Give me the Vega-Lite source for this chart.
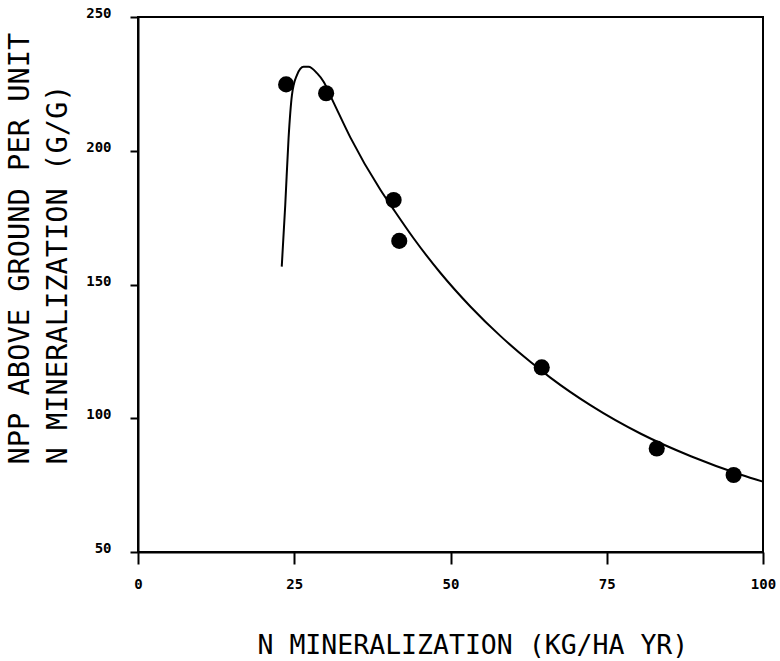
{
  "$schema": "https://vega.github.io/schema/vega-lite/v6.json",
  "autosize": {"type": "none"},
  "padding": {"left": 138, "top": 17, "right": 17, "bottom": 109},
  "width": 625,
  "height": 535,
  "background": "white",
  "datasets": {
    "observed": [
      {"n_min": 23.7, "npp_per_n": 224.8},
      {"n_min": 30.1, "npp_per_n": 221.5},
      {"n_min": 40.9, "npp_per_n": 181.6},
      {"n_min": 41.8, "npp_per_n": 166.3},
      {"n_min": 64.6, "npp_per_n": 119.0},
      {"n_min": 83.0, "npp_per_n": 88.7},
      {"n_min": 95.3, "npp_per_n": 78.8}
    ],
    "fitted": [
      {"n_min": 23.0, "npp_per_n": 156.7},
      {"n_min": 23.56, "npp_per_n": 179.7},
      {"n_min": 24.09, "npp_per_n": 204.7},
      {"n_min": 24.63, "npp_per_n": 220.8},
      {"n_min": 25.43, "npp_per_n": 228.3},
      {"n_min": 26.49, "npp_per_n": 231.4},
      {"n_min": 27.29, "npp_per_n": 231.4},
      {"n_min": 28.64, "npp_per_n": 229.0},
      {"n_min": 29.7, "npp_per_n": 225.8},
      {"n_min": 31.3, "npp_per_n": 218.0},
      {"n_min": 33.97, "npp_per_n": 205.0},
      {"n_min": 38.78, "npp_per_n": 185.4},
      {"n_min": 40.91, "npp_per_n": 178.0},
      {"n_min": 44.12, "npp_per_n": 167.2},
      {"n_min": 48.4, "npp_per_n": 154.3},
      {"n_min": 53.21, "npp_per_n": 141.7},
      {"n_min": 58.01, "npp_per_n": 130.7},
      {"n_min": 62.82, "npp_per_n": 121.0},
      {"n_min": 66.03, "npp_per_n": 115.1},
      {"n_min": 72.44, "npp_per_n": 104.8},
      {"n_min": 80.45, "npp_per_n": 94.2},
      {"n_min": 88.46, "npp_per_n": 85.8},
      {"n_min": 96.47, "npp_per_n": 78.9},
      {"n_min": 100.0, "npp_per_n": 76.3}
    ]
  },
  "config": {
    "view": {"stroke": "black", "strokeWidth": 2},
    "axis": {
      "grid": false,
      "domainColor": "black",
      "domainWidth": 2,
      "tickColor": "black",
      "tickWidth": 2,
      "labelColor": "black",
      "labelFont": "DejaVu Sans Mono",
      "labelFontWeight": "bold",
      "labelFontSize": 14,
      "labelFlush": false,
      "labelOverlap": false,
      "labelBound": false,
      "titleColor": "black",
      "titleFont": "DejaVu Sans Mono",
      "titleFontWeight": "normal"
    }
  },
  "layer": [
    {
      "data": {"name": "fitted"},
      "mark": {"type": "line", "color": "black", "strokeWidth": 2, "interpolate": "monotone"},
      "encoding": {
        "x": {
          "field": "n_min",
          "type": "quantitative",
          "scale": {"domain": [0, 100], "nice": false},
          "axis": {
            "values": [0, 25, 50, 75, 100],
            "tickSize": 12,
            "labelPadding": 13,
            "labelBaseline": "top",
            "title": "N MINERALIZATION (KG/HA YR)",
            "titleFontSize": 26.5,
            "titleAlign": "left",
            "titleAnchor": "start",
            "titleBaseline": "alphabetic",
            "titleX": 119,
            "titleY": 101
          }
        },
        "y": {
          "field": "npp_per_n",
          "type": "quantitative",
          "scale": {"domain": [50, 250], "nice": false, "zero": false},
          "axis": {
            "values": [50, 100, 150, 200, 250],
            "tickSize": 8,
            "labelPadding": 19,
            "labelAlign": "right",
            "labelBaseline": "alphabetic",
            "labelOffset": 0.5,
            "title": ["NPP ABOVE GROUND PER UNIT", "N MINERALIZATION (G/G)"],
            "titleFontSize": 28.7,
            "titleAngle": -90,
            "titleAlign": "left",
            "titleAnchor": "start",
            "titleBaseline": "alphabetic",
            "titleLineHeight": 38,
            "titleX": -110,
            "titleY": 447
          }
        }
      }
    },
    {
      "data": {"name": "observed"},
      "mark": {"type": "circle", "color": "black", "opacity": 1, "size": 260},
      "encoding": {
        "x": {"field": "n_min", "type": "quantitative"},
        "y": {"field": "npp_per_n", "type": "quantitative"}
      }
    }
  ]
}
